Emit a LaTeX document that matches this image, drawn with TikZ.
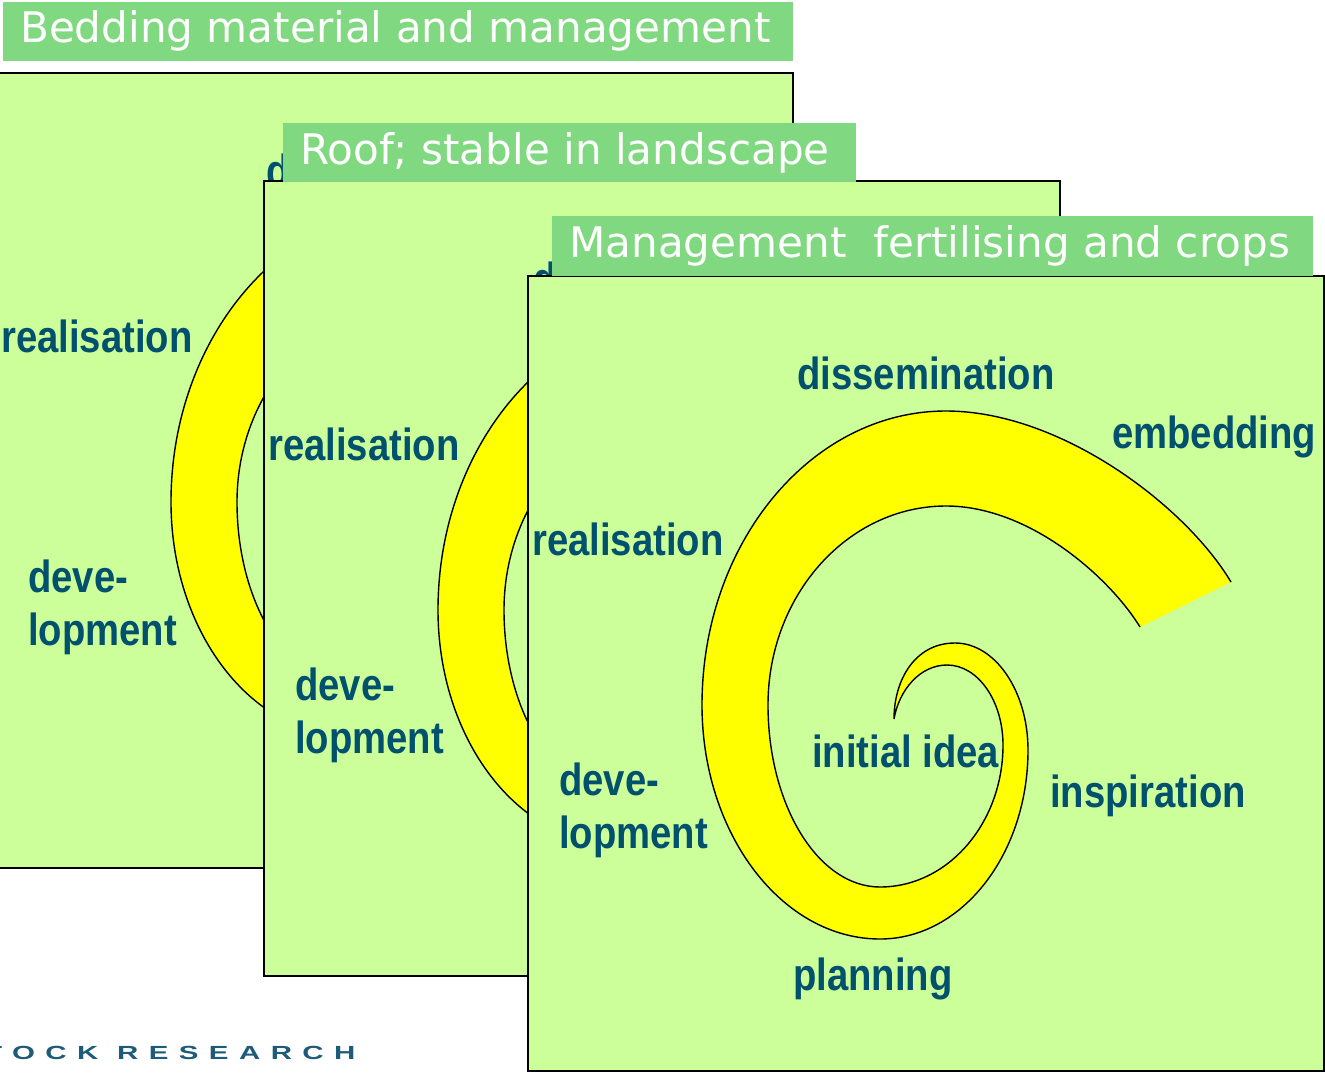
\documentclass[tikz,border=0pt]{standalone}
\usepackage{fontspec}
\newfontfamily\hdrfont{DejaVu Sans}
\newfontfamily\lblfont[FakeStretch=0.85]{Liberation Sans Bold}
\newfontfamily\logofont[FakeStretch=1.55,LetterSpace=55]{Liberation Sans Bold}
\definecolor{panelfill}{HTML}{CCFF99}
\definecolor{hdrfill}{HTML}{80D980}
\definecolor{lbltext}{HTML}{00506E}
\definecolor{logotext}{HTML}{1E5B78}
\definecolor{spiralfill}{HTML}{FFFF00}
\newcommand\spiralfull{(894,719) .. controls (894,680) and (915,643) .. (955,643) .. controls (995,643) and (1028,691) .. (1028,750) .. controls (1028,854) and (962,939) .. (880,939) .. controls (782,939) and (702,834) .. (702,705) .. controls (702,543) and (811,411) .. (946,411) .. controls (1060,411) and (1185,505) .. (1231,582) -- (1140,627) .. controls (1110,578) and (1030,506) .. (946,506) .. controls (848,506) and (768,595) .. (768,705) .. controls (768,805) and (818,887) .. (880,887) .. controls (948,887) and (1003,823) .. (1003,745) .. controls (1003,701) and (978,665) .. (947,665) .. controls (920,665) and (899,690) .. (894,719) -- cycle}
\newcommand\spiraledges{(894,719) .. controls (894,680) and (915,643) .. (955,643) .. controls (995,643) and (1028,691) .. (1028,750) .. controls (1028,854) and (962,939) .. (880,939) .. controls (782,939) and (702,834) .. (702,705) .. controls (702,543) and (811,411) .. (946,411) .. controls (1060,411) and (1185,505) .. (1231,582) (1140,627) .. controls (1110,578) and (1030,506) .. (946,506) .. controls (848,506) and (768,595) .. (768,705) .. controls (768,805) and (818,887) .. (880,887) .. controls (948,887) and (1003,823) .. (1003,745) .. controls (1003,701) and (978,665) .. (947,665) .. controls (920,665) and (899,690) .. (894,719)}
\tikzset{
  panelbox/.style={fill=panelfill,draw=black,line width=1.2pt},
  hdrbox/.style={fill=hdrfill,draw=none},
  hdrtext/.style={anchor=base west,inner sep=0pt,text=white,font=\hdrfont\fontsize{42.1}{50}\selectfont},
  lbl/.style={anchor=base west,inner sep=0pt,text=lbltext,font=\lblfont\fontsize{45}{53}\selectfont},
  spiralband/.style={fill=spiralfill,draw=none},
  spiraledge/.style={draw=black,line width=1.4pt}
}
% #1 = name suffix
\newcommand\panelinside[1]{%
  \fill[spiralband] \spiralfull;
  \draw[spiraledge] \spiraledges;
  \node[lbl] (diss#1) at (797,389) {dissemination};
  \node[lbl] (embe#1) at (1112,448) {embedding};
  \node[lbl] (real#1) at (532,555) {realisation};
  \node[lbl] (deva#1) at (559,795) {deve-};
  \node[lbl] (devb#1) at (559,848) {lopment};
  \node[lbl] (init#1) at (812,767) {initial idea};
  \node[lbl] (insp#1) at (1050,807) {inspiration};
  \node[lbl] (plan#1) at (793,990) {planning};
}
\begin{document}
\begin{tikzpicture}[x=1pt,y=-1pt]
\useasboundingbox (0,0) rectangle (1325,1073);
\fill[white] (0,0) rectangle (1325,1073);
% logo text
\node[anchor=base west,inner sep=0pt,text=logotext,font=\logofont\fontsize{19}{21}\selectfont] (logo) at (-16,1059) {TOCK RESEARCH};
% panel 1
\path[panelbox] (-3,73) rectangle (793,868);
\path[hdrbox] (3,2) rectangle (793,61);
\node[hdrtext] (h1) at (20,43) {Bedding material and management};
\begin{scope}[shift={(-531,-203)}]
  \panelinside{1}
\end{scope}
% panel 2
\path[panelbox] (264,181) rectangle (1060,976);
\path[hdrbox] (283,123) rectangle (856,182);
\node[hdrtext] (h2) at (300,164) {Roof; stable in landscape};
\begin{scope}[shift={(-264,-95)}]
  \panelinside{2}
\end{scope}
% panel 3
\path[panelbox] (528,276) rectangle (1324,1071);
\path[hdrbox] (552,216) rectangle (1313,276);
\node[hdrtext] (h3) at (569,257) {Management\ \ fertilising and crops};
\panelinside{3}
\end{tikzpicture}
\end{document}
